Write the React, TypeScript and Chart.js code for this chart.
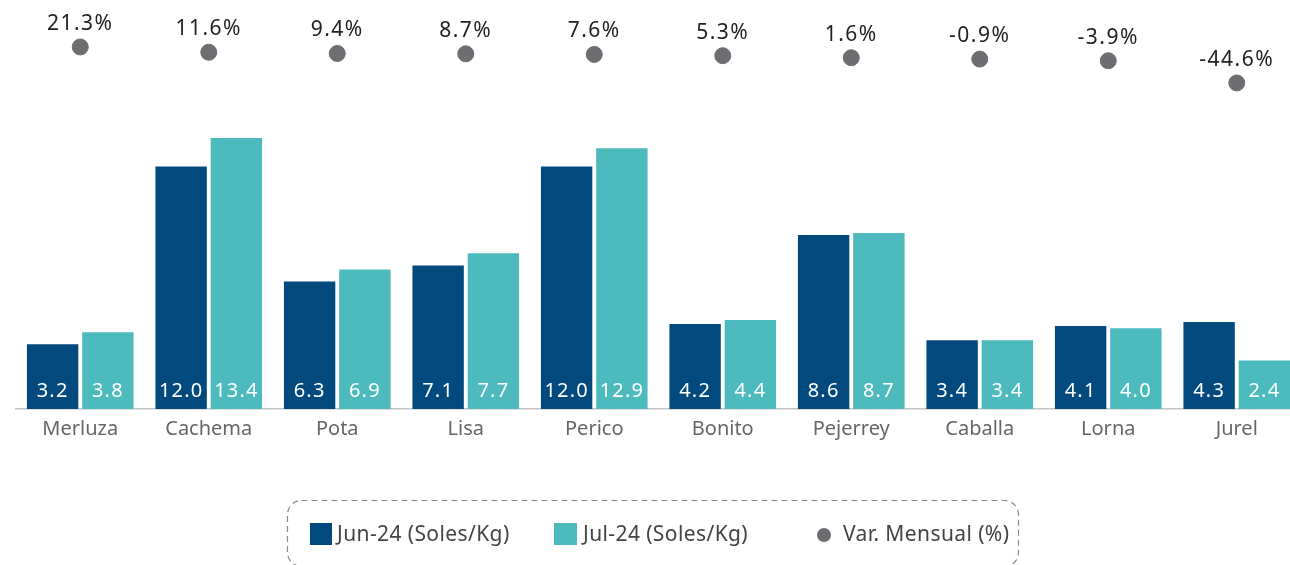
import React, { useEffect, useRef } from "react";
import { Chart, registerables } from "chart.js";

Chart.register(...registerables);

const categories = ["Merluza", "Cachema", "Pota", "Lisa", "Perico", "Bonito", "Pejerrey", "Caballa", "Lorna", "Jurel"];
const jun24 = [3.2, 12.0, 6.3, 7.1, 12.0, 4.2, 8.6, 3.4, 4.1, 4.3];
const jul24 = [3.8, 13.4, 6.9, 7.7, 12.9, 4.4, 8.7, 3.4, 4.0, 2.4];
const varMensual = [21.3, 11.6, 9.4, 8.7, 7.6, 5.3, 1.6, -0.9, -3.9, -44.6];
const seriesNames = ["Jun-24 (Soles/Kg)", "Jul-24 (Soles/Kg)", "Var. Mensual (%)"];

const COL_JUN = "#024a7e";
const COL_JUL = "#4dbabd";
const COL_DOT = "#6d6e71";
const FONT = '"Noto Sans", "Open Sans", sans-serif';

const labelPlugin = {
  id: "customLabels",
  afterDatasetsDraw(chart: any) {
    const ctx = chart.ctx;
    const area = chart.chartArea;
    ctx.save();
    ctx.textAlign = "center";
    ctx.textBaseline = "middle";
    ctx.font = `20px ${FONT}`;
    (ctx as any).letterSpacing = "1.2px";
    [0, 1].forEach((di) => {
      const meta = chart.getDatasetMeta(di);
      const vals = chart.data.datasets[di].data as number[];
      meta.data.forEach((bar: any, i: number) => {
        ctx.fillStyle = "#ffffff";
        ctx.fillText(vals[i].toFixed(1), bar.x, area.bottom - 18);
      });
    });
    ctx.font = `21px ${FONT}`;
    (ctx as any).letterSpacing = "1.5px";
    const dm = chart.getDatasetMeta(2);
    const dv = chart.data.datasets[2].data as number[];
    dm.data.forEach((pt: any, i: number) => {
      ctx.fillStyle = "#222222";
      ctx.fillText(dv[i].toFixed(1) + "%", pt.x, pt.y - 23);
    });
    ctx.restore();
  },
  afterDraw(chart: any) {
    const ctx = chart.ctx;
    ctx.save();
    ctx.strokeStyle = "#8a8a8a";
    ctx.lineWidth = 1.2;
    ctx.setLineDash([6, 4]);
    ctx.beginPath();
    (ctx as any).roundRect(287.5, 500.5, 731, 66, 14);
    ctx.stroke();
    ctx.setLineDash([]);
    ctx.font = `21px ${FONT}`;
    (ctx as any).letterSpacing = "0.4px";
    ctx.textBaseline = "middle";
    ctx.textAlign = "left";
    const cy = 535;
    ctx.fillStyle = COL_JUN;
    ctx.fillRect(310, 523, 22, 22);
    ctx.fillStyle = "#444444";
    ctx.fillText(seriesNames[0], 337, cy);
    ctx.fillStyle = COL_JUL;
    ctx.fillRect(554, 523, 23, 22);
    ctx.fillStyle = "#444444";
    ctx.fillText(seriesNames[1], 583, cy);
    ctx.fillStyle = COL_DOT;
    ctx.beginPath();
    ctx.arc(824, cy, 7, 0, Math.PI * 2);
    ctx.fill();
    ctx.fillStyle = "#444444";
    ctx.fillText(seriesNames[2], 843, cy);
    ctx.restore();
  },
};

export default function App() {
  const ref = useRef<HTMLCanvasElement | null>(null);
  useEffect(() => {
    document.body.style.margin = "0";
    const canvas = ref.current;
    if (!canvas) return;
    const chart = new Chart(canvas, {
      type: "bar",
      data: {
        labels: categories,
        datasets: [
          {
            label: seriesNames[0],
            data: jun24,
            backgroundColor: COL_JUN,
            categoryPercentage: 0.86,
            barPercentage: 0.93,
            yAxisID: "y",
            order: 2,
          } as any,
          {
            label: seriesNames[1],
            data: jul24,
            backgroundColor: COL_JUL,
            categoryPercentage: 0.86,
            barPercentage: 0.93,
            yAxisID: "y",
            order: 2,
          } as any,
          {
            type: "line",
            label: seriesNames[2],
            data: varMensual,
            showLine: false,
            pointRadius: 8,
            pointHoverRadius: 8,
            pointBackgroundColor: COL_DOT,
            pointBorderColor: COL_DOT,
            borderColor: COL_DOT,
            backgroundColor: COL_DOT,
            yAxisID: "y2",
            clip: false,
            order: 1,
          } as any,
        ],
      },
      options: {
        animation: false,
        responsive: false,
        maintainAspectRatio: false,
        layout: { padding: { top: 20, left: 16, right: 0, bottom: 116 } },
        plugins: {
          legend: { display: false },
          tooltip: { enabled: false },
        },
        scales: {
          x: {
            grid: { display: false, drawTicks: false },
            border: { display: true, color: "#c4c4c4", width: 1.5 },
            ticks: {
              color: "#666666",
              font: { family: FONT, size: 20 },
              padding: 8,
            },
            afterFit: (scale: any) => {
              scale.height = 40;
            },
          },
          y: {
            display: false,
            min: 0,
            max: 19.24,
          },
          y2: {
            display: false,
            min: -641.7,
            max: 70.7,
          },
        },
      },
      plugins: [labelPlugin],
    });
    return () => chart.destroy();
  }, []);
  return (
    <div style={{ width: 1290, height: 565, position: "relative", background: "#fff", overflow: "hidden" }}>
      <canvas ref={ref} width={1310} height={565} style={{ display: "block" }} />
    </div>
  );
}
